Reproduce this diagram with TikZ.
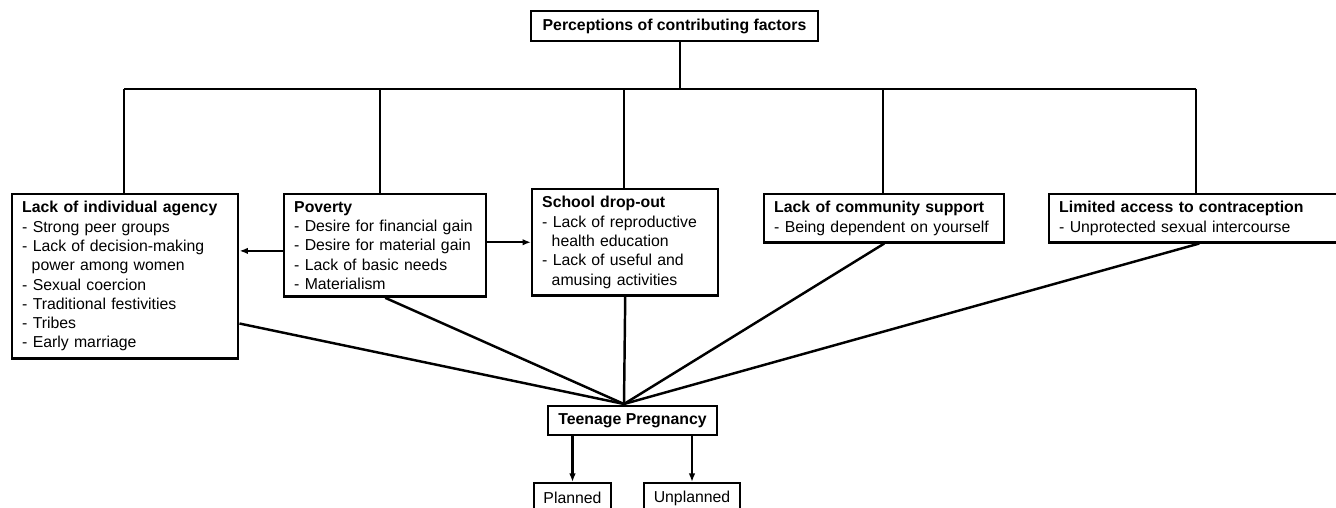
\documentclass[tikz,border=0pt]{standalone}
\usepackage{fontspec}
\setmainfont{Liberation Sans}
\usetikzlibrary{arrows.meta}

\begin{document}
\begin{tikzpicture}[line width=1.4pt,
		factor/.style={draw,anchor=north west,align=left,inner xsep=0.2cm,inner ysep=0.14cm,font=\fontsize{9}{11}\selectfont},
		title/.style={draw,minimum height=0.6cm,inner sep=0pt,font=\fontsize{9}{11}\selectfont\bfseries},
		result/.style={draw,anchor=north,minimum height=0.6cm,inner sep=0pt,font=\fontsize{9}{11}\selectfont},
		>={Latex[length=1.7mm,width=1.3mm]}]
		\clip (0,0) rectangle (26.72,10.16);
		% Perceptions tree
		\node[title,minimum width=5.74cm] (Perceptions) at (13.49,9.64) {Perceptions of contributing factors};
		\coordinate (Bar) at (13.6,8.38);
		\coordinate (B1) at (2.48,8.38);
		\coordinate (B2) at (7.60,8.38);
		\coordinate (B3) at (12.48,8.38);
		\coordinate (B4) at (17.66,8.38);
		\coordinate (B5) at (23.92,8.38);

		\node[factor,text width=4.12cm] (Agency) at (0.22,6.30) {\textbf{Lack of individual agency}\\- Strong peer groups\\- Lack of decision-making\\\hspace*{0.6em}power among women\\- Sexual coercion\\- Traditional festivities\\- Tribes\\- Early marriage};
		\node[factor,text width=3.64cm] (Poverty) at (5.66,6.30) {\textbf{Poverty}\\- Desire for financial gain\\- Desire for material gain\\- Lack of basic needs\\- Materialism};
		\node[factor,text width=3.32cm] (School) at (10.62,6.40) {\textbf{School drop-out}\\- Lack of reproductive\\\hspace*{0.6em}health education\\- Lack of useful and\\\hspace*{0.6em}amusing activities};
		\node[factor,text width=4.4cm] (Community) at (15.26,6.30) {\textbf{Lack of community support}\\- Being dependent on yourself};
		\node[factor,text width=5.6cm] (Access) at (20.96,6.30) {\textbf{Limited access to contraception}\\- Unprotected sexual intercourse};

		\draw (Perceptions.south -| Bar) -- (Bar);
		\draw (B1) -- (B5);
		\draw (B1) -- (B1 |- Agency.north);
		\draw (B2) -- (B2 |- Poverty.north);
		\draw (B3) -- (B3 |- School.north);
		\draw (B4) -- (B4 |- Community.north);
		\draw (B5) -- (B5 |- Access.north);

		\draw[->] ([yshift=-0.11cm]Poverty.north west |- Poverty.west) -- ([yshift=-0.11cm]Poverty.north west |- Poverty.west -| Agency.east);
		\draw[->] (Poverty.east |- School.west) -- (School.west);

		% Teenage pregnancy
		\node[title,minimum width=3.38cm,minimum height=0.58cm] (Pregnancy) at (12.65,1.75) {Teenage Pregnancy};
		\coordinate (Join) at (12.48,2.08);
		\draw ([yshift=0.72cm]Agency.south east) -- (Join);
		\draw (Poverty.south) -- (Join);
		\draw (School.south) -- (Join);
		\draw (Community.south) -- (Join);
		\draw (Access.south) -- (Join);

		\node[result,minimum width=1.54cm] (Planned) at (11.45,0.52) {Planned};
		\node[result,minimum width=1.92cm] (Unplanned) at (13.84,0.52) {Unplanned};
		\draw[->] (Pregnancy.south -| Planned.north) -- (Planned.north);
		\draw[->] (Pregnancy.south -| Unplanned.north) -- (Unplanned.north);
\end{tikzpicture}
\end{document}
